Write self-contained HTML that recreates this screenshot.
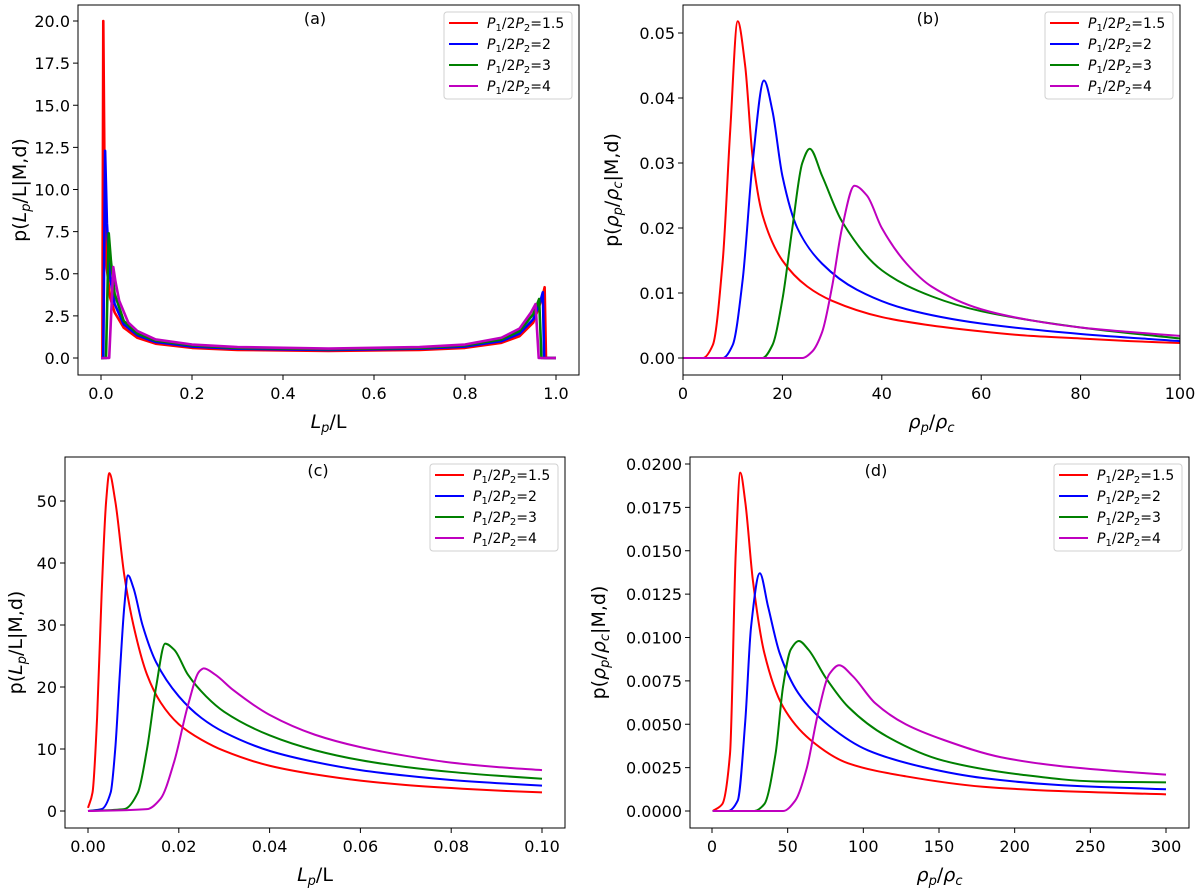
<!DOCTYPE html>
<html><head><meta charset="utf-8">
<style>
html,body{margin:0;padding:0;background:#fff;}
svg{display:block;font-family:"DejaVu Sans","Liberation Sans",sans-serif;}
</style></head>
<body>
<svg id="fig" width="1200" height="889" viewBox="0 0 1200 889" xmlns="http://www.w3.org/2000/svg"></svg>
<script>
// ---- data ----
const seriesLabels = ["1.5","2","3","4"];
const seriesColors = ["#ff0000","#0000ff","#008000","#bf00bf"];

// panel (a)
const aX = [
 [0,0.003,0.005,0.008,0.012,0.02,0.03,0.05,0.08,0.12,0.2,0.3,0.5,0.7,0.8,0.88,0.92,0.95,0.97,0.975,0.978,1.0],
 [0,0.005,0.009,0.013,0.02,0.03,0.05,0.08,0.12,0.2,0.3,0.5,0.7,0.8,0.88,0.92,0.95,0.965,0.971,0.974,1.0],
 [0,0.011,0.017,0.022,0.03,0.05,0.08,0.12,0.2,0.3,0.5,0.7,0.8,0.88,0.92,0.95,0.963,0.968,1.0],
 [0,0.018,0.027,0.032,0.04,0.06,0.08,0.12,0.2,0.3,0.5,0.7,0.8,0.88,0.92,0.945,0.955,0.962,1.0]];
const aY = [
 [0,0,20,10,5.5,3.6,2.7,1.8,1.2,0.85,0.6,0.48,0.42,0.48,0.6,0.9,1.3,2.1,3.6,4.2,0,0],
 [0,0,12.3,8,4.8,3.2,2,1.35,0.95,0.68,0.55,0.48,0.55,0.68,1.0,1.45,2.3,3.3,3.9,0,0],
 [0,0,7.4,5.7,3.8,2.2,1.45,1.03,0.75,0.6,0.52,0.6,0.75,1.1,1.6,2.6,3.5,0,0],
 [0,0,5.4,4.5,3.4,2.1,1.6,1.1,0.8,0.65,0.56,0.65,0.8,1.2,1.75,2.7,3.2,0,0]];
const aXTicks = ["0.0","0.2","0.4","0.6","0.8","1.0"];
const aYTicks = ["0.0","2.5","5.0","7.5","10.0","12.5","15.0","17.5","20.0"];

// panel (b)
const bX = [
 [0,4,6,8,9.5,11,12.5,14,16,20,25,30,40,50,60,70,80,90,100],
 [0,8,10,12,14,16.3,18,20,23,28,35,45,60,80,100],
 [0,16,18,20,22,24,25.5,28,32,40,50,60,80,100],
 [0,24,26,28,30,32,34.5,37,40,45,50,60,70,80,90,100]];
const bY = [
 [0,0,0.002,0.015,0.035,0.0518,0.045,0.031,0.022,0.015,0.011,0.0088,0.0063,0.005,0.0041,0.0034,0.003,0.0026,0.0023],
 [0,0,0.002,0.012,0.03,0.0427,0.038,0.028,0.02,0.0145,0.0105,0.0075,0.0053,0.0037,0.0026],
 [0,0,0.002,0.009,0.02,0.03,0.0322,0.028,0.021,0.0135,0.0095,0.0072,0.0047,0.003],
 [0,0,0.001,0.004,0.011,0.02,0.0265,0.025,0.02,0.0145,0.011,0.0075,0.0058,0.0047,0.004,0.0034]];
const bXTicks = ["0","20","40","60","80","100"];
const bYTicks = ["0.00","0.01","0.02","0.03","0.04","0.05"];

// panel (c)
const cX = [
 [0,0.001,0.002,0.003,0.004,0.0047,0.006,0.008,0.01,0.013,0.016,0.02,0.025,0.03,0.04,0.05,0.06,0.07,0.08,0.09,0.1],
 [0,0.003,0.005,0.006,0.007,0.008,0.0088,0.01,0.012,0.015,0.02,0.025,0.03,0.04,0.05,0.06,0.07,0.08,0.09,0.1],
 [0,0.008,0.011,0.013,0.015,0.017,0.019,0.022,0.026,0.03,0.04,0.05,0.06,0.07,0.08,0.09,0.1],
 [0,0.013,0.016,0.019,0.022,0.0245,0.0255,0.028,0.032,0.04,0.05,0.06,0.07,0.08,0.09,0.1]];
const cY = [
 [0.5,3,15,35,50,54.5,50,38,30,22,17.5,14,11.5,9.7,7.3,5.9,4.9,4.2,3.7,3.3,3],
 [0,0.3,3,10,22,33,38,36,30,24,18.5,15,12.7,9.7,7.9,6.6,5.7,5,4.5,4.1],
 [0,0.3,3,10,20,27,26,22,18.5,16,12.2,9.8,8.2,7.1,6.3,5.7,5.2],
 [0,0.3,2,8,17,22.5,23,22,19.5,15.5,12.3,10.3,8.9,7.8,7.1,6.6]];
const cXTicks = ["0.00","0.02","0.04","0.06","0.08","0.10"];
const cYTicks = ["0","10","20","30","40","50"];

// panel (d)
const dX = [
 [0.5,6.8,11.9,15.7,18.7,22,27,34.6,47,65,90,128,179,229,300],
 [0.5,10.6,17,22,25.8,31.6,37,44.7,57,77.6,103,141,179,229,300],
 [0.5,28,34.6,42,47,52,57.4,63.7,75,90,115.5,153,204,254,300],
 [0.5,47,55,62.4,70,77.6,84,92.7,108,128,153,191,229,267,300]];
const dY = [
 [0,0.0004,0.0033,0.0149,0.0195,0.0178,0.0133,0.0091,0.006,0.0041,0.00275,0.002,0.0014,0.00115,0.00096],
 [0,0,0.0006,0.0052,0.0106,0.0137,0.0118,0.0091,0.0068,0.0049,0.0035,0.0025,0.0019,0.0015,0.00125],
 [0,0,0.0004,0.0033,0.0072,0.0093,0.0098,0.0093,0.0077,0.006,0.0043,0.0029,0.0021,0.0017,0.00165],
 [0,0,0.0006,0.0024,0.0056,0.0079,0.0084,0.0078,0.0062,0.005,0.0041,0.0031,0.0026,0.0023,0.0021]];
const dXTicks = ["0","50","100","150","200","250","300"];
const dYTicks = ["0.0000","0.0025","0.0050","0.0075","0.0100","0.0125","0.0150","0.0175","0.0200"];

// ---- rendering ----
const NS = "http://www.w3.org/2000/svg";
const svg = document.getElementById("fig");
function mk(tag, attrs, parent){
  const e = document.createElementNS(NS, tag);
  for (const k in attrs) e.setAttribute(k, attrs[k]);
  (parent||svg).appendChild(e);
  return e;
}
function monoPath(px, py){
  const n = px.length;
  if (n < 3) return "M"+px.map((x,i)=>x+","+py[i]).join("L");
  const d=[], m=new Array(n);
  for (let i=0;i<n-1;i++) d.push((py[i+1]-py[i])/((px[i+1]-px[i])||1e-9));
  m[0]=d[0]; m[n-1]=d[n-2];
  for (let i=1;i<n-1;i++){
    if (d[i-1]*d[i] <= 0) m[i]=0;
    else { const w1=2*(px[i+1]-px[i])+(px[i]-px[i-1]), w2=(px[i+1]-px[i])+2*(px[i]-px[i-1]);
      m[i]=(w1+w2)/(w1/d[i-1]+w2/d[i]); }
  }
  let s = "M"+px[0].toFixed(2)+","+py[0].toFixed(2);
  for (let i=0;i<n-1;i++){
    const h=(px[i+1]-px[i])/3;
    s += " C"+(px[i]+h).toFixed(2)+","+(py[i]+m[i]*h).toFixed(2)+" "+(px[i+1]-h).toFixed(2)+","+(py[i+1]-m[i+1]*h).toFixed(2)+" "+px[i+1].toFixed(2)+","+py[i+1].toFixed(2);
  }
  return s;
}

function panel(cfg){
  const g = mk("g", {});
  
  
  const L=cfg.box[0], T=cfg.box[1], R=cfg.box[2], B=cfg.box[3];
  const xs = v => cfg.xPix[0] + (v - cfg.xDom[0])/(cfg.xDom[1]-cfg.xDom[0])*(cfg.xPix[1]-cfg.xPix[0]);
  const ys = v => cfg.yPix[0] + (v - cfg.yDom[0])/(cfg.yDom[1]-cfg.yDom[0])*(cfg.yPix[1]-cfg.yPix[0]);
  const cp = mk("clipPath", {id:"clip-"+cfg.id}, g);
  mk("rect", {x:L, y:T, width:R-L, height:B-T}, cp);
  const sg = mk("g", {"clip-path":"url(#clip-"+cfg.id+")"}, g);
  for (let s=0;s<cfg.X.length;s++){
    const px = cfg.X[s].map(xs), py = cfg.Y[s].map(ys);
    const d = cfg.linear ? "M"+px.map((x,i)=>x.toFixed(2)+","+py[i].toFixed(2)).join(" L") : monoPath(px, py);
    const p = mk("path", {d:d, fill:"none", stroke:seriesColors[s], "stroke-width":cfg.lw, "stroke-linejoin":"round"}, sg);
    
    
  }
  const fr = mk("rect", {x:L, y:T, width:R-L, height:B-T, fill:"none", stroke:"#000", "stroke-width":1}, g);
  
  
  const xg = mk("g", {}, g);
  
  
  cfg.xTicks.forEach(t=>{
    const x = xs(parseFloat(t));
    mk("line", {x1:x, x2:x, y1:B, y2:B+5, stroke:"#000", "stroke-width":1}, xg);
    const tx = mk("text", {x:x, y:B+24, "font-size":16, "text-anchor":"middle", fill:"#000"}, xg);
    tx.textContent = t;
    
    
  });
  const yg = mk("g", {}, g);
  
  
  cfg.yTicks.forEach(t=>{
    const y = ys(parseFloat(t));
    mk("line", {x1:L-5, x2:L, y1:y, y2:y, stroke:"#000", "stroke-width":1}, yg);
    const tx = mk("text", {x:L-8, y:y+6, "font-size":16, "text-anchor":"end", fill:"#000"}, yg);
    tx.textContent = t;
    
    
  });
  const xt = mk("text", {x:(L+R)/2, y:B+53, "font-size":19, "text-anchor":"middle", fill:"#000"}, g);
  
  
  xt.innerHTML = cfg.xTitle;
  const yt = mk("text", {x:0, y:0, "font-size":19, "text-anchor":"middle", fill:"#000", transform:"translate("+cfg.yTitleX+","+((T+B)/2)+") rotate(-90)"}, g);
  
  
  yt.innerHTML = cfg.yTitle;
  const pl = mk("text", {x:cfg.letterX, y:T+19, "font-size":16, "text-anchor":"middle", fill:"#000"}, g);
  
  
  pl.textContent = "("+cfg.id+")";
  const lg = mk("g", {}, g);
  
  
  const lw=128, lh=87, lx=R-7-lw, ly=T+7;
  mk("rect", {x:lx, y:ly, width:lw, height:lh, rx:3, fill:"#fff", "fill-opacity":0.8, stroke:"#d0d0d0", "stroke-width":1}, lg);
  seriesLabels.forEach((lab,i)=>{
    const y = ly+11+i*21;
    const e = mk("g", {}, lg);
    
    
    mk("line", {x1:lx+5, x2:lx+34, y1:y, y2:y, stroke:seriesColors[i], "stroke-width":2}, e);
    const t = mk("text", {x:lx+43, y:y+5, "font-size":14, fill:"#000"}, e);
    t.innerHTML = '<tspan font-style="italic">P</tspan><tspan font-size="10" dy="3">1</tspan><tspan dy="-3">/2</tspan><tspan font-style="italic">P</tspan><tspan font-size="10" dy="3">2</tspan><tspan dy="-3">='+lab+'</tspan>';
  });
}

const LpL = '<tspan font-style="italic">L</tspan><tspan font-size="13" font-style="italic" dy="4">p</tspan><tspan dy="-4">/L</tspan>';
const rr = '<tspan font-style="italic">ρ</tspan><tspan font-size="13" font-style="italic" dy="4">p</tspan><tspan dy="-4">/</tspan><tspan font-style="italic">ρ</tspan><tspan font-size="13" font-style="italic" dy="4">c</tspan>';
const yA = 'p(<tspan font-style="italic">L</tspan><tspan font-size="13" font-style="italic" dy="4">p</tspan><tspan dy="-4">/L|M,d)</tspan>';
const yB = 'p(<tspan font-style="italic">ρ</tspan><tspan font-size="13" font-style="italic" dy="4">p</tspan><tspan dy="-4">/</tspan><tspan font-style="italic">ρ</tspan><tspan font-size="13" font-style="italic" dy="4">c</tspan><tspan dy="-4">|M,d)</tspan>';

panel({id:"a", box:[78,5,579,375], xDom:[0,1], xPix:[101,556], yDom:[0,20], yPix:[358,21],
  X:aX, Y:aY, xTicks:aXTicks, yTicks:aYTicks, linear:true, lw:2.6,
  xTitle:LpL, yTitle:yA, yTitleX:26, letterX:315});
panel({id:"b", box:[683,5,1180,375], xDom:[0,100], xPix:[683,1180], yDom:[0,0.05], yPix:[358,33],
  X:bX, Y:bY, xTicks:bXTicks, yTicks:bYTicks, linear:false, lw:2,
  xTitle:rr, yTitle:yB, yTitleX:618, letterX:928});
panel({id:"c", box:[65,457,565,828], xDom:[0,0.1], xPix:[88,542], yDom:[0,50], yPix:[811,501],
  X:cX, Y:cY, xTicks:cXTicks, yTicks:cYTicks, linear:false, lw:2,
  xTitle:LpL, yTitle:yA, yTitleX:22, letterX:318});
panel({id:"d", box:[690,457,1189,828], xDom:[0,300], xPix:[712,1166], yDom:[0,0.02], yPix:[811,464],
  X:dX, Y:dY, xTicks:dXTicks, yTicks:dYTicks, linear:false, lw:2,
  xTitle:rr, yTitle:yB, yTitleX:605, letterX:876});
</script>
</body></html>
